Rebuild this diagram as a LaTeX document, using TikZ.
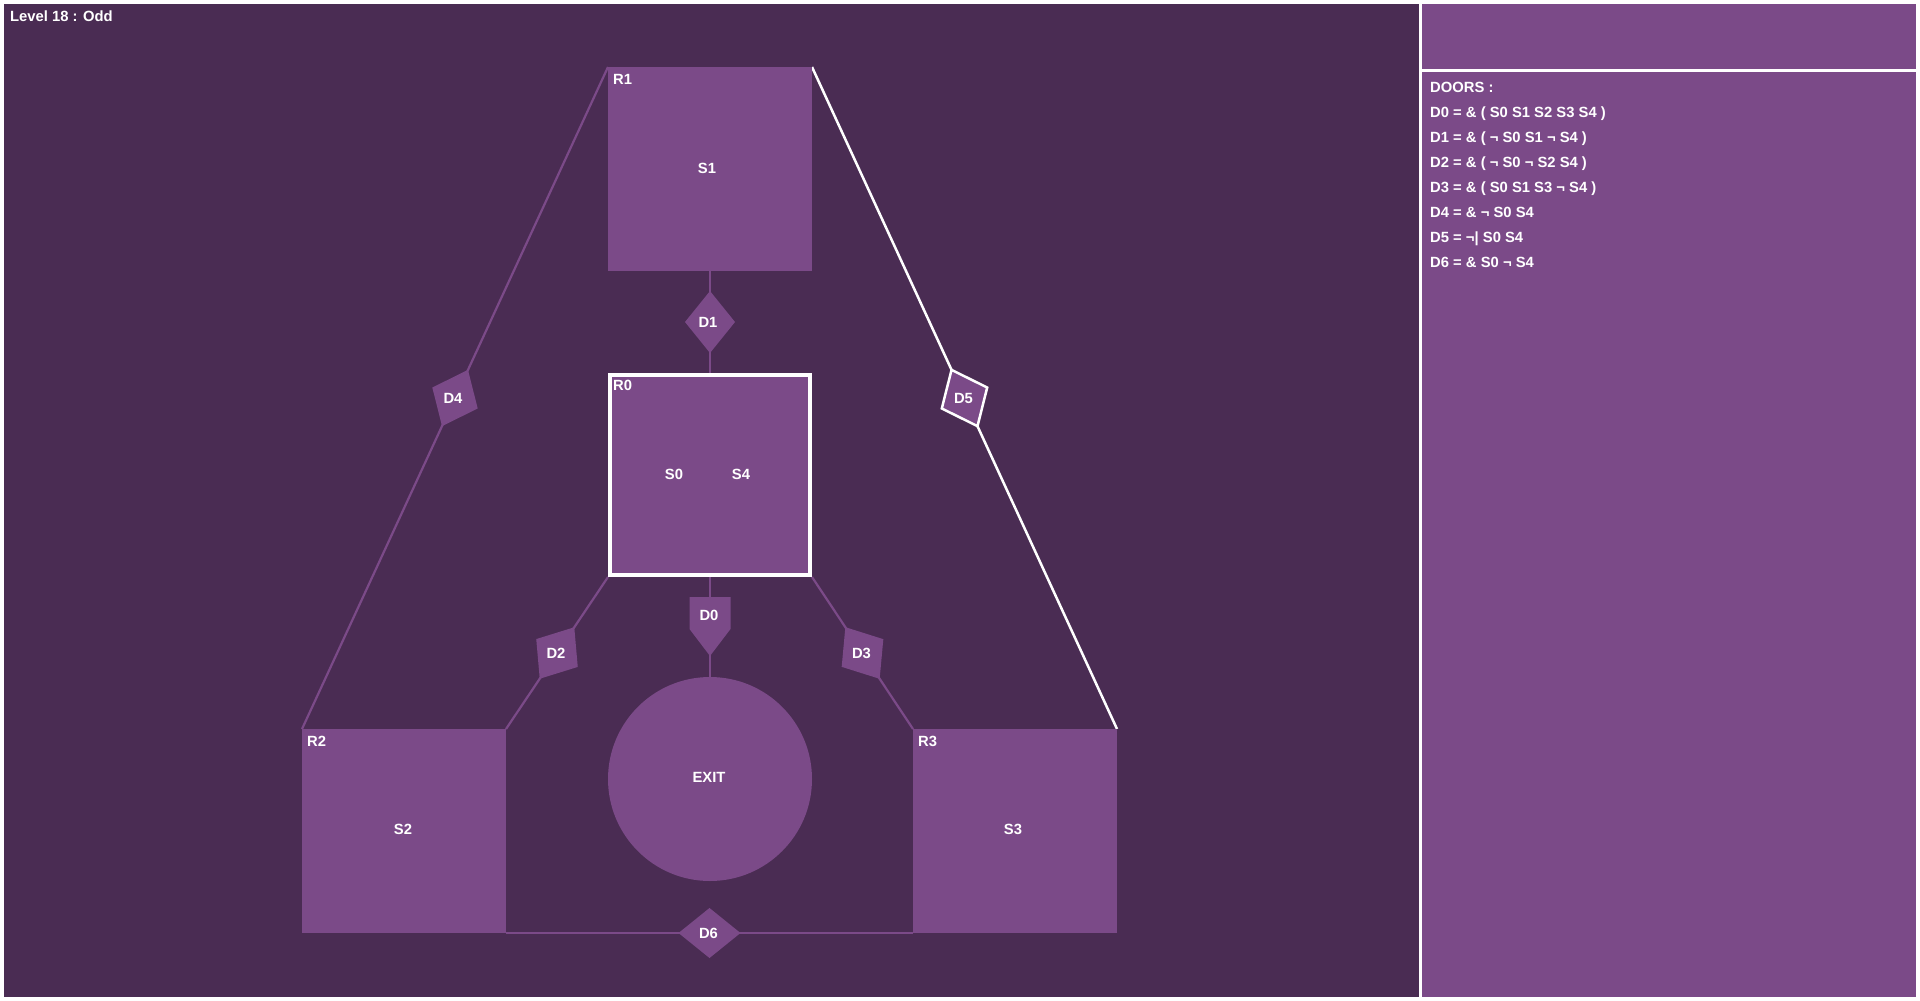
\documentclass[tikz,border=0pt]{standalone}
\usepackage{fontspec}
\setmainfont{Liberation Sans}
\usetikzlibrary{calc}
\definecolor{bgdark}{RGB}{74,44,83}
\definecolor{roomc}{RGB}{123,74,136}
\pgfdeclarelayer{back}
\pgfdeclarelayer{mid}
\pgfsetlayers{back,mid,main}
\newcommand\drhomb[4][fill=roomc]{% #2 centre, #3 and #4 the two ends
  \path[#1] ($(#2)!31pt!(#4)$) -- ($(#2)!25pt!90:(#4)$) -- ($(#2)!31pt!(#3)$) -- ($(#2)!25pt!-90:(#4)$) -- cycle;}
\begin{document}
\begin{tikzpicture}[x=1pt,y=-1pt,
  txt/.style={text=white,font=\fontsize{14.8}{17}\selectfont\bfseries,inner sep=0pt},
  room/.style={fill=roomc,minimum size=204pt,inner sep=0pt,outer sep=0pt,anchor=north west},
  link/.style={draw=roomc,line width=2.2pt},
  hilink/.style={draw=white,line width=2.5pt},
  panel/.style={txt,anchor=base west}]
\useasboundingbox (0,0) rectangle (1920,1001);
\begin{pgfonlayer}{back}
\fill[white] (0,0) rectangle (1920,1001);
\fill[bgdark] (4,4) rectangle (1419,997);
\fill[roomc] (1422,4) rectangle (1916,69);
\fill[roomc] (1422,72) rectangle (1916,997);
\end{pgfonlayer}
% rooms
\node[room] (R1) at (608,67) {};
\node[room] (R0) at (608,373) {};
\node[room] (R2) at (302,729) {};
\node[room] (R3) at (913,729) {};
\node[circle,fill=roomc,minimum size=204pt,inner sep=0pt,outer sep=0pt] (EX) at (710,779) {};
\draw[white,line width=3.6pt] ($(R0.north west)+(1.8,1.8)$) rectangle ($(R0.south east)+(-1.8,-1.8)$);
% connectors
\begin{pgfonlayer}{mid}
\draw[link] (R1.south) -- (R0.north);
\draw[link] (R0.south) -- (EX.north);
\draw[link] (R0.south west) -- (R2.north east);
\draw[link] (R0.south east) -- (R3.north west);
\draw[link] (R2.north west) -- (R1.north west);
\draw[hilink] (R1.north east) -- (R3.north east);
\draw[link] (R2.south east) -- (R3.south west);
\end{pgfonlayer}
\coordinate (m1) at ($(R1.south)!0.5!(R0.north)$);
\coordinate (m0) at ($(R0.south)!0.5!(EX.north)$);
\coordinate (m2) at ($(R0.south west)!0.5!(R2.north east)$);
\coordinate (m3) at ($(R0.south east)!0.5!(R3.north west)$);
\coordinate (m4) at ($(R2.north west)!0.5!(R1.north west)$);
\coordinate (m5) at ($(R1.north east)!0.5!(R3.north east)$);
\coordinate (m6) at ($(R2.south east)!0.5!(R3.south west)$);
% doors
\drhomb{m1}{R1.south}{R0.north}
\drhomb{m2}{R0.south west}{R2.north east}
\drhomb{m3}{R0.south east}{R3.north west}
\drhomb{m4}{R2.north west}{R1.north west}
\drhomb[fill=roomc,draw=white,line width=2.5pt]{m5}{R1.north east}{R3.north east}
\drhomb{m6}{R2.south east}{R3.south west}
\fill[roomc] ($(m0)+(-20.5,-30)$) -- ($(m0)+(20.5,-30)$) -- ($(m0)+(20.5,2)$) -- ($(m0)+(0,29)$) -- ($(m0)+(-20.5,2)$) -- cycle;
\node[txt] (D0) at ($(m0)+(-1,-12)$) {D0};
\node[txt] (D1) at ($(m1)+(-2,0)$) {D1};
\node[txt] (D2) at ($(m2)+(-1,0)$) {D2};
\node[txt] (D3) at ($(m3)+(-1,0)$) {D3};
\node[txt] (D4) at ($(m4)+(-2,0)$) {D4};
\node[txt] (D5) at ($(m5)+(-1,0)$) {D5};
\node[txt] (D6) at ($(m6)+(-1,0)$) {D6};
% room labels
\node[txt,anchor=north west] (R1l) at ($(R1.north west)+(5,7)$) {R1};
\node[txt,anchor=north west] (R0l) at ($(R0.north west)+(5,6.5)$) {R0};
\node[txt,anchor=north west] (R2l) at ($(R2.north west)+(5,6.5)$) {R2};
\node[txt,anchor=north west] (R3l) at ($(R3.north west)+(5,6.5)$) {R3};
\node[txt] (S1) at (707,168) {S1};
\node[txt] (S0) at (674,474) {S0};
\node[txt] (S4) at (741,474) {S4};
\node[txt] (S2) at (403,829) {S2};
\node[txt] (S3) at (1013,829) {S3};
\node[txt] (EXl) at (709,777) {EXIT};
% header and panel
\node[panel] (lvl) at (10,21.5) {Level 18 : Odd};
\node[panel] (p0) at (1430,92) {DOORS :};
\node[panel] (p1) at (1430,117) {D0 = \& ( S0 S1 S2 S3 S4 )};
\node[panel] (p2) at (1430,142) {D1 = \& ( ¬ S0 S1 ¬ S4 )};
\node[panel] (p3) at (1430,167) {D2 = \& ( ¬ S0 ¬ S2 S4 )};
\node[panel] (p4) at (1430,192) {D3 = \& ( S0 S1 S3 ¬ S4 )};
\node[panel] (p5) at (1430,217) {D4 = \& ¬ S0 S4};
\node[panel] (p6) at (1430,242) {D5 = ¬| S0 S4};
\node[panel] (p7) at (1430,267) {D6 = \& S0 ¬ S4};
\end{tikzpicture}
\end{document}
